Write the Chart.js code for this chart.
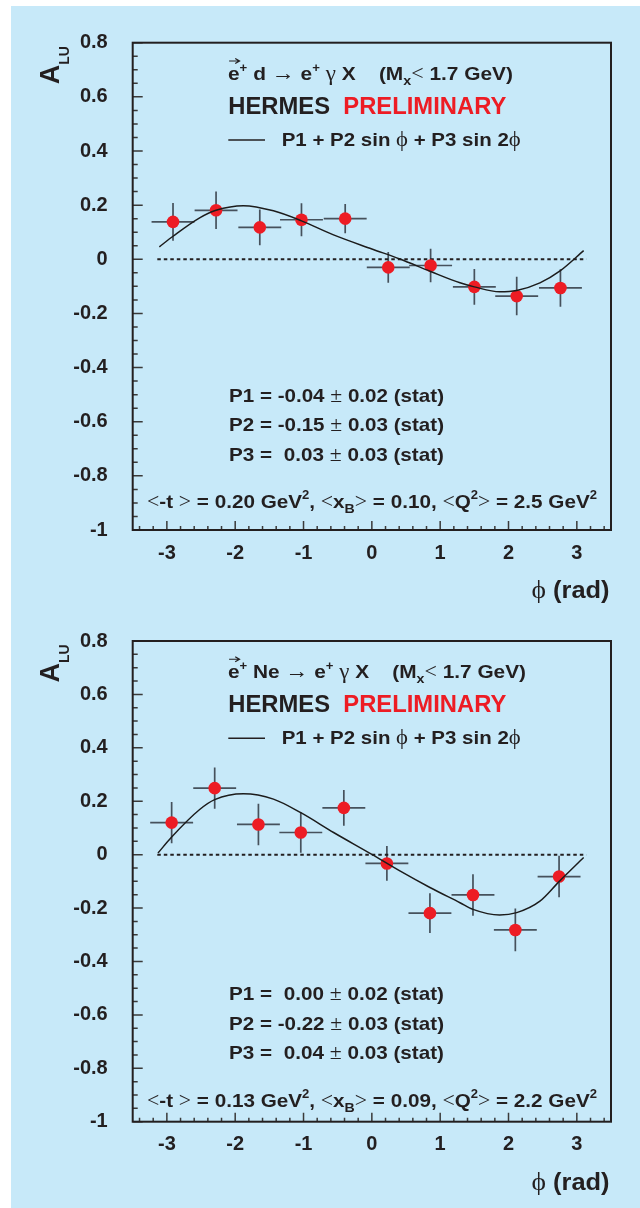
<!DOCTYPE html>
<html>
<head>
<meta charset="utf-8">
<script src="https://cdn.jsdelivr.net/npm/chart.js@4.4.1/dist/chart.umd.min.js"></script>
<style>
html, body { margin: 0; padding: 0; background: #fff; }
#page { position: relative; width: 640px; height: 1208px; overflow: hidden; }
#bg { position: absolute; left: 11px; top: 6px; right: 0; bottom: 0; background: #c7e9f9; }
canvas { position: absolute; left: 0; }
</style>
</head>
<body>
<div id="page">
  <div id="bg"></div>
  <canvas id="topChart" width="640" height="604" style="top:0"></canvas>
  <canvas id="botChart" width="640" height="604" style="top:604px"></canvas>
</div>
<script>
// =======================
// Data
// =======================
const xTicks = [-3, -2, -1, 0, 1, 2, 3];
const yTicks = [-1, -0.8, -0.6, -0.4, -0.2, 0, 0.2, 0.4, 0.6, 0.8];
const binHalf = 0.314;            // horizontal bars: half of a 2pi/10 bin
const zeroPhi = [-3.14, 3.14];

// deuterium target
const dPhi = [-2.91, -2.28, -1.64, -1.03, -0.39, 0.24, 0.86, 1.50, 2.12, 2.76];
const dAlu = [0.138, 0.181, 0.118, 0.146, 0.150, -0.030, -0.023, -0.102, -0.136, -0.106];
const dErr = [0.070, 0.069, 0.066, 0.061, 0.054, 0.057, 0.062, 0.066, 0.071, 0.069];
const dFitPhi = [-3.11, -2.91, -2.52, -2.28, -1.88, -1.44, -1.03, -0.57, 0, 0.41, 0.86, 1.29, 1.50, 1.87, 2.12, 2.46, 2.76, 3.10];
const dFitAlu = [0.046, 0.085, 0.153, 0.181, 0.198, 0.179, 0.142, 0.091, 0.038, 0.001, -0.045, -0.087, -0.102, -0.120, -0.115, -0.087, -0.042, 0.032];

// neon target
const nePhi = [-2.93, -2.30, -1.66, -1.04, -0.41, 0.22, 0.85, 1.48, 2.10, 2.74];
const neAlu = [0.120, 0.249, 0.113, 0.083, 0.175, -0.033, -0.219, -0.151, -0.282, -0.082];
const neErr = [0.077, 0.077, 0.078, 0.076, 0.067, 0.065, 0.074, 0.078, 0.080, 0.078];
const neFitPhi = [-3.13, -2.93, -2.52, -2.30, -1.88, -1.44, -1.04, -0.56, 0, 0.41, 0.85, 1.29, 1.48, 1.87, 2.12, 2.46, 2.74, 3.10];
const neFitAlu = [0.006, 0.066, 0.169, 0.206, 0.228, 0.208, 0.157, 0.083, 0.001, -0.061, -0.123, -0.180, -0.205, -0.226, -0.217, -0.174, -0.101, -0.011];

// =======================
// Styles
// =======================
const ink = '#231f20';
const red = '#ed1c24';
const B = n => `bold ${n}px "Liberation Sans", Arial, sans-serif`;
const S = n => `${n}px "Liberation Serif", "DejaVu Serif", serif`;

const pts = (xs, ys) => xs.map((x, i) => ({ x: x, y: ys[i] }));

// draws a row of text pieces, squeezed to a given width
function drawRich(ctx, segs, x, y, width) {
    let total = 0;
    segs.forEach(s => { ctx.font = s.f; s.w = ctx.measureText(s.t).width; total += s.w; });
    const k = width ? width / total : 1;
    ctx.save();
    ctx.translate(x, y);
    ctx.scale(k, 1);
    ctx.textAlign = 'left';
    ctx.textBaseline = 'alphabetic';
    let cx = 0;
    segs.forEach(s => {
        ctx.font = s.f;
        ctx.fillStyle = s.c || ink;
        ctx.fillText(s.t, cx, s.dy || 0);
        if (s.arrow) {
            const ay = -19, x0 = cx + 1, x1 = cx + s.w;
            ctx.strokeStyle = ink;
            ctx.lineWidth = 1.1;
            ctx.beginPath();
            ctx.moveTo(x0, ay); ctx.lineTo(x1, ay);
            ctx.moveTo(x1 - 4, ay - 2.5); ctx.lineTo(x1, ay); ctx.lineTo(x1 - 4, ay + 2.5);
            ctx.stroke();
        }
        cx += s.w;
    });
    ctx.restore();
}

function makePlugin(cfg) {
    return {
        id: 'hermes',
        beforeDatasetsDraw(chart) {
            const { ctx, scales: { x, y } } = chart;
            ctx.save();
            ctx.strokeStyle = '#46515c';
            ctx.lineWidth = 1.7;
            cfg.phi.forEach((v, i) => {
                const px = x.getPixelForValue(v);
                const py = y.getPixelForValue(cfg.alu[i]);
                ctx.beginPath();
                ctx.moveTo(x.getPixelForValue(v - binHalf), py);
                ctx.lineTo(x.getPixelForValue(v + binHalf), py);
                ctx.moveTo(px, y.getPixelForValue(cfg.alu[i] + cfg.err[i]));
                ctx.lineTo(px, y.getPixelForValue(cfg.alu[i] - cfg.err[i]));
                ctx.stroke();
            });
            ctx.restore();
        },
        afterDatasetsDraw(chart) {
            const { ctx, chartArea: a, scales: { x, y } } = chart;
            ctx.save();
            // inward ticks
            ctx.strokeStyle = '#3a3a3a';
            ctx.lineWidth = 1.5;
            ctx.beginPath();
            for (let i = 0; i <= 36; i++) {
                const py = y.getPixelForValue(-1 + i * 0.05);
                ctx.moveTo(a.left, py);
                ctx.lineTo(a.left + (i % 4 === 0 ? 10 : 5), py);
            }
            for (let i = -17; i <= 17; i++) {
                const px = x.getPixelForValue(i * 0.2);
                ctx.moveTo(px, a.bottom);
                ctx.lineTo(px, a.bottom - (i % 5 === 0 ? 9 : 4));
            }
            ctx.stroke();
            // frame
            ctx.strokeStyle = ink;
            ctx.lineWidth = 2;
            ctx.strokeRect(a.left, a.top, a.right - a.left, a.bottom - a.top);
            ctx.restore();
        },
        afterDraw(chart) {
            const { ctx, chartArea: a } = chart;
            const T = a.top;
            const t = cfg.text;
            drawRich(ctx, [
                { t: 'e', f: B(19), arrow: true },
                { t: '+', f: B(12), dy: -8 },
                { t: ' ' + t.target + ' ', f: B(19) },
                { t: '→', f: S(21) },
                { t: ' e', f: B(19) },
                { t: '+', f: B(12), dy: -8 },
                { t: ' ', f: B(19) },
                { t: 'γ', f: S(21) },
                { t: ' X    (M', f: B(19) },
                { t: 'x', f: B(13), dy: 5 },
                { t: '<', f: S(20) },
                { t: ' 1.7 GeV)', f: B(19) }
            ], 228, T + 37.3, t.line1Width);
            drawRich(ctx, [
                { t: 'HERMES  ', f: B(23) },
                { t: 'PRELIMINARY', f: B(23), c: red }
            ], 228.3, T + 71.3, 278);
            // legend
            ctx.save();
            ctx.strokeStyle = ink;
            ctx.lineWidth = 1.4;
            ctx.beginPath();
            ctx.moveTo(228.3, T + 97.3);
            ctx.lineTo(265, T + 97.3);
            ctx.stroke();
            ctx.restore();
            drawRich(ctx, [
                { t: 'P1 + P2 sin ', f: B(19) },
                { t: 'ϕ', f: S(21) },
                { t: ' + P3 sin 2', f: B(19) },
                { t: 'ϕ', f: S(21) }
            ], 281.7, T + 103, 239);
            // fit parameters
            t.pars.forEach((p, i) => {
                drawRich(ctx, [
                    { t: p[0] + ' ', f: B(19) },
                    { t: '±', f: S(20) },
                    { t: ' ' + p[1] + ' (stat)', f: B(19) }
                ], 229, T + 359 + i * 29.5, 215);
            });
            // kinematics
            const k = t.kin;
            drawRich(ctx, [
                { t: '<', f: S(20) }, { t: '-t ', f: B(19) }, { t: '>', f: S(20) },
                { t: ' = ' + k[0] + ' GeV', f: B(19) }, { t: '2', f: B(12), dy: -9 },
                { t: ', ', f: B(19) },
                { t: '<', f: S(20) }, { t: 'x', f: B(19) }, { t: 'B', f: B(13), dy: 5 }, { t: '>', f: S(20) },
                { t: ' = ' + k[1] + ', ', f: B(19) },
                { t: '<', f: S(20) }, { t: 'Q', f: B(19) }, { t: '2', f: B(12), dy: -9 }, { t: '>', f: S(20) },
                { t: ' = ' + k[2] + ' GeV', f: B(19) }, { t: '2', f: B(12), dy: -9 }
            ], 147, T + 465.6, 450);
            // axis titles
            ctx.save();
            ctx.translate(59.3, T + 41.5);
            ctx.rotate(-Math.PI / 2);
            drawRich(ctx, [
                { t: 'A', f: B(27) },
                { t: 'LU', f: B(14), dy: 10 }
            ], 0, 0);
            ctx.restore();
            drawRich(ctx, [
                { t: 'ϕ', f: S(26) },
                { t: ' (rad)', f: B(24) }
            ], 531.5, a.bottom + 68, 78);
        }
    };
}

function makePanel(canvas, cfg) {
    const tickFont = { family: '"Liberation Sans", Arial, sans-serif', size: 20, weight: 'bold' };
    return new Chart(canvas, {
        type: 'scatter',
        data: {
            datasets: [{
                data: pts(cfg.fitPhi, cfg.fitAlu),
                showLine: true,
                borderColor: '#1c1c1c',
                borderWidth: 1.5,
                pointRadius: 0,
                cubicInterpolationMode: 'monotone'
            }, {
                data: pts(cfg.phi, cfg.alu),
                pointRadius: 6.3,
                pointBackgroundColor: red,
                pointBorderWidth: 0
            }, {
                data: pts(zeroPhi, [0, 0]),
                showLine: true,
                borderColor: ink,
                borderWidth: 2,
                borderDash: [3.5, 3],
                pointRadius: 0
            }]
        },
        options: {
            responsive: false,
            animation: false,
            devicePixelRatio: 1,
            events: [],
            layout: {
                padding: { left: 72.7, right: 29, top: cfg.padTop, bottom: cfg.padBottom }
            },
            scales: {
                x: {
                    type: 'linear',
                    min: -3.5,
                    max: 3.5,
                    afterBuildTicks: s => { s.ticks = xTicks.map(v => ({ value: v })); },
                    afterFit: s => { s.height = 40; },
                    grid: { display: false, drawTicks: false },
                    border: { display: false },
                    ticks: { font: tickFont, color: ink, padding: 11, autoSkip: false, maxRotation: 0, callback: v => String(v) }
                },
                y: {
                    type: 'linear',
                    min: -1,
                    max: 0.8,
                    afterBuildTicks: s => { s.ticks = yTicks.map(v => ({ value: v })); },
                    afterFit: s => { s.width = 60; },
                    grid: { display: false, drawTicks: false },
                    border: { display: false },
                    ticks: { font: tickFont, color: ink, padding: 25, autoSkip: false, callback: v => String(v) }
                }
            },
            plugins: {
                legend: { display: false },
                tooltip: { enabled: false }
            }
        },
        plugins: [makePlugin(cfg)]
    });
}

makePanel(document.querySelector('#topChart'), {
    phi: dPhi, alu: dAlu, err: dErr, fitPhi: dFitPhi, fitAlu: dFitAlu,
    padTop: 42.7, padBottom: 34,
    text: {
        target: 'd', line1Width: 285,
        pars: [['P1 = -0.04', '0.02'], ['P2 = -0.15', '0.03'], ['P3 =  0.03', '0.03']],
        kin: ['0.20', '0.10', '2.5']
    }
});

makePanel(document.querySelector('#botChart'), {
    phi: nePhi, alu: neAlu, err: neErr, fitPhi: neFitPhi, fitAlu: neFitAlu,
    padTop: 28.7, padBottom: 46.3,
    text: {
        target: 'Ne', line1Width: 298,
        pars: [['P1 =  0.00', '0.02'], ['P2 = -0.22', '0.03'], ['P3 =  0.04', '0.03']],
        kin: ['0.13', '0.09', '2.2']
    }
});
</script>
</body>
</html>
